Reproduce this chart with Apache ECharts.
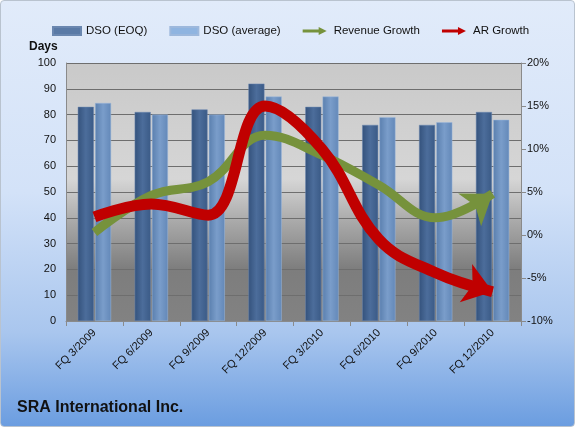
<!DOCTYPE html>
<html>
<head>
<meta charset="utf-8">
<script src="https://cdn.jsdelivr.net/npm/echarts@6/dist/echarts.min.js"></script>
<style>
  html, body { margin: 0; padding: 0; }
  #chart {
    width: 573px; height: 425px;
    border: 1px solid #b9c3cf;
    border-radius: 4px;
    background: linear-gradient(to bottom, #e1ebfa 0%, #d3e2f8 45%, #a9c6ee 78%, #6b9de0 100%);
  }
</style>
</head>
<body>
<div id="chart"></div>
<script>
// quarters
const categories = ['FQ 3/2009', 'FQ 6/2009', 'FQ 9/2009', 'FQ 12/2009', 'FQ 3/2010', 'FQ 6/2010', 'FQ 9/2010', 'FQ 12/2010']
// days sales outstanding
const dsoEoq = [83, 81, 82, 92, 83, 76, 76, 81]
const dsoAvg = [84.5, 80, 80, 87, 87, 79, 77, 78]
// growth, percent
const revenueGrowth = [0.3, 4.6, 6.2, 11.6, 9.3, 5.8, 2.0, 4.8]
const arGrowth = [2.1, 3.6, 2.3, 15.0, 10.0, -0.5, -4.4, -6.6]

const chart = echarts.init(document.getElementById('chart'))

const barGrad = (a, b, c) => new echarts.graphic.LinearGradient(0, 0, 1, 0, [
  { offset: 0, color: a },
  { offset: 0.5, color: b },
  { offset: 1, color: c }
])

// put an arrow head on the last point of a line
const withArrow = (values, rotate) => values.map((v, i) => {
  if (i < values.length - 1) return v
  return { value: v, symbol: 'arrow', symbolSize: [30, 28], symbolRotate: rotate }
})

const arrowIcon = 'path://M0,3 L20,3 L20,0 L30,5 L20,10 L20,7 L0,7 Z'
const labelFont = 'Liberation Sans'

const option = {
  animation: false,
  textStyle: { fontFamily: labelFont },
  title: {
    text: 'SRA International Inc.',
    left: 11, bottom: 5,
    textStyle: { fontSize: 16, fontWeight: 'bold', color: '#111', fontFamily: labelFont }
  },
  graphic: [
    { type: 'text', left: 28, top: 40, style: { text: 'Days', fontSize: 12, fontWeight: 'bold', fill: '#111', fontFamily: labelFont } }
  ],
  legend: {
    top: 19, left: 46,
    itemGap: 22,
    itemWidth: 28, itemHeight: 8,
    textStyle: { fontSize: 11.5, color: '#111' },
    data: [
      { name: 'DSO (EOQ)', icon: 'rect', itemStyle: { color: '#5a7aa6' } },
      { name: 'DSO (average)', icon: 'rect', itemStyle: { color: '#8fb4e0' } },
      { name: 'Revenue Growth', icon: arrowIcon, itemStyle: { color: '#76923c' } },
      { name: 'AR Growth', icon: arrowIcon, itemStyle: { color: '#c00000' } }
    ]
  },
  grid: {
    left: 65, right: 53, top: 62, bottom: 105,
    show: true,
    borderWidth: 0,
    backgroundColor: new echarts.graphic.LinearGradient(0, 0, 0, 1, [
      { offset: 0, color: '#c9c9c9' },
      { offset: 0.45, color: '#d6d6d6' },
      { offset: 0.62, color: '#a8a8a8' },
      { offset: 0.8, color: '#7d7d7d' },
      { offset: 1, color: '#828282' }
    ])
  },
  xAxis: {
    type: 'category',
    data: categories,
    axisLine: { lineStyle: { color: '#8a8a8a' } },
    axisTick: { show: true, length: 5, lineStyle: { color: '#8a8a8a' } },
    axisLabel: { rotate: 45, fontSize: 11, color: '#111', margin: 10 }
  },
  yAxis: [
    {
      type: 'value', min: 0, max: 100, interval: 10,
      axisLine: { show: true, lineStyle: { color: '#8a8a8a' } },
      axisTick: { show: false },
      axisLabel: { fontSize: 11, color: '#111', margin: 10 },
      splitLine: { lineStyle: { color: '#6e6e6e', width: 1 } }
    },
    {
      type: 'value', min: -10, max: 20, interval: 5,
      axisLine: { show: true, lineStyle: { color: '#8a8a8a' } },
      axisTick: { show: true, length: 5, lineStyle: { color: '#8a8a8a' } },
      axisLabel: { fontSize: 11, color: '#111', formatter: '{value}%', margin: 6 },
      splitLine: { show: false }
    }
  ],
  series: [
    {
      name: 'DSO (EOQ)', type: 'bar', data: dsoEoq,
      barWidth: 16, barGap: '8%',
      itemStyle: { color: barGrad('#34527c', '#4c6d9b', '#3a5a86'), borderColor: '#6a87b0', borderWidth: 0.5 }
    },
    {
      name: 'DSO (average)', type: 'bar', data: dsoAvg,
      barWidth: 16,
      itemStyle: { color: barGrad('#5a7fae', '#7a9dca', '#6388b8'), borderColor: '#9db8dc', borderWidth: 0.5 }
    },
    {
      name: 'Revenue Growth', type: 'line', yAxisIndex: 1,
      data: withArrow(revenueGrowth, -55),
      smooth: 0.4, symbol: 'none', showSymbol: true,
      lineStyle: { color: '#76923c', width: 9 },
      itemStyle: { color: '#76923c' }
    },
    {
      name: 'AR Growth', type: 'line', yAxisIndex: 1,
      data: withArrow(arGrowth, -108),
      smooth: 0.4, symbol: 'none', showSymbol: true,
      lineStyle: { color: '#c00000', width: 11 },
      itemStyle: { color: '#c00000' }
    }
  ]
}

chart.setOption(option)
</script>
</body>
</html>
